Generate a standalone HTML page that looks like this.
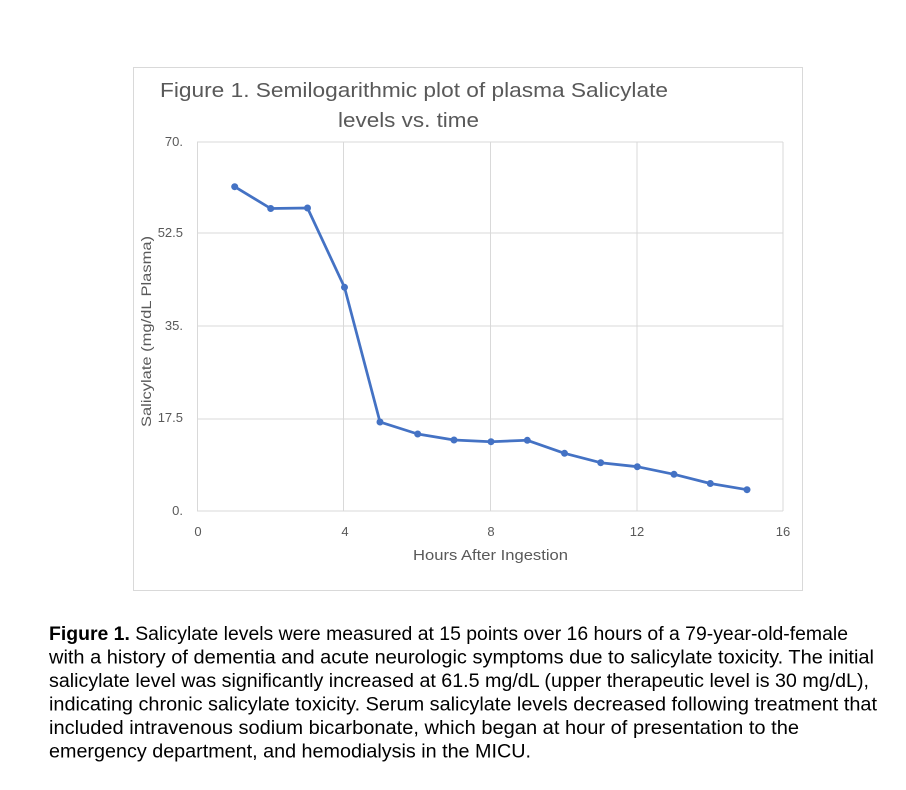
<!DOCTYPE html>
<html>
<head>
<meta charset="utf-8">
<style>
  html, body { margin:0; padding:0; background:#ffffff; }
  svg { display:block; }
</style>
</head>
<body>
<svg width="906" height="790" viewBox="0 0 906 790" xmlns="http://www.w3.org/2000/svg">
  <rect x="0" y="0" width="906" height="790" fill="#ffffff"/>
  <!-- chart outer box -->
  <rect x="133.5" y="67.5" width="669" height="523" fill="#ffffff" stroke="#d9d9d9" stroke-width="1"/>

  <!-- title -->
  <g font-family="Liberation Sans, sans-serif" fill="#595959" font-size="20.5">
    <text x="160" y="97" textLength="508" lengthAdjust="spacingAndGlyphs">Figure 1. Semilogarithmic plot of plasma Salicylate</text>
    <text x="338" y="127" textLength="141" lengthAdjust="spacingAndGlyphs">levels vs. time</text>
  </g>

  <!-- gridlines -->
  <g stroke="#d9d9d9" stroke-width="1" fill="none">
    <line x1="197" y1="142" x2="783" y2="142"/>
    <line x1="197" y1="233" x2="783" y2="233"/>
    <line x1="197" y1="326" x2="783" y2="326"/>
    <line x1="197" y1="419" x2="783" y2="419"/>
    <line x1="197" y1="511" x2="783" y2="511"/>
    <line x1="197.5" y1="142" x2="197.5" y2="511"/>
    <line x1="343.5" y1="142" x2="343.5" y2="511"/>
    <line x1="490.5" y1="142" x2="490.5" y2="511"/>
    <line x1="637" y1="142" x2="637" y2="511"/>
    <line x1="783" y1="142" x2="783" y2="511"/>
  </g>

  <!-- y tick labels -->
  <g font-family="Liberation Sans, sans-serif" fill="#595959" font-size="13" text-anchor="end">
    <text x="183" y="146">70.</text>
    <text x="183" y="237">52.5</text>
    <text x="183" y="330">35.</text>
    <text x="183" y="422">17.5</text>
    <text x="183" y="515">0.</text>
  </g>

  <!-- x tick labels -->
  <g font-family="Liberation Sans, sans-serif" fill="#595959" font-size="13" text-anchor="middle">
    <text x="198" y="536">0</text>
    <text x="345" y="536">4</text>
    <text x="491" y="536">8</text>
    <text x="637" y="536">12</text>
    <text x="783" y="536">16</text>
  </g>

  <!-- axis titles -->
  <text x="413" y="560" font-family="Liberation Sans, sans-serif" font-size="14.5" fill="#595959" textLength="155" lengthAdjust="spacingAndGlyphs">Hours After Ingestion</text>
  <text transform="translate(151,427) rotate(-90)" x="0" y="0" font-family="Liberation Sans, sans-serif" font-size="13.5" fill="#595959" textLength="191" lengthAdjust="spacingAndGlyphs">Salicylate (mg/dL Plasma)</text>

  <!-- data series -->
  <polyline fill="none" stroke="#4472C4" stroke-width="2.75" stroke-linejoin="round"
    points="234.7,186.7 270.7,208.5 307.5,208 344.5,287.3 380,422 417.7,434 454,440 491,441.7 527.3,440.3 564.5,453.3 600.7,462.7 637.3,466.7 674,474.3 710.3,483.5 747,489.7"/>
  <g fill="#4472C4">
    <circle cx="234.7" cy="186.7" r="3.5"/>
    <circle cx="270.7" cy="208.5" r="3.5"/>
    <circle cx="307.5" cy="208" r="3.5"/>
    <circle cx="344.5" cy="287.3" r="3.5"/>
    <circle cx="380" cy="422" r="3.5"/>
    <circle cx="417.7" cy="434" r="3.5"/>
    <circle cx="454" cy="440" r="3.5"/>
    <circle cx="491" cy="441.7" r="3.5"/>
    <circle cx="527.3" cy="440.3" r="3.5"/>
    <circle cx="564.5" cy="453.3" r="3.5"/>
    <circle cx="600.7" cy="462.7" r="3.5"/>
    <circle cx="637.3" cy="466.7" r="3.5"/>
    <circle cx="674" cy="474.3" r="3.5"/>
    <circle cx="710.3" cy="483.5" r="3.5"/>
    <circle cx="747" cy="489.7" r="3.5"/>
  </g>

  <!-- caption -->
  <g font-family="Liberation Sans, sans-serif" font-size="19" fill="#000000">
    <text x="49" y="640" textLength="799" lengthAdjust="spacingAndGlyphs"><tspan font-weight="bold">Figure 1.</tspan> Salicylate levels were measured at 15 points over 16 hours of a 79-year-old-female</text>
    <text x="49" y="663.5" textLength="825" lengthAdjust="spacingAndGlyphs">with a history of dementia and acute neurologic symptoms due to salicylate toxicity. The initial</text>
    <text x="49" y="687" textLength="820" lengthAdjust="spacingAndGlyphs">salicylate level was significantly increased at 61.5 mg/dL (upper therapeutic level is 30 mg/dL),</text>
    <text x="49" y="710.5" textLength="828" lengthAdjust="spacingAndGlyphs">indicating chronic salicylate toxicity. Serum salicylate levels decreased following treatment that</text>
    <text x="49" y="734" textLength="750" lengthAdjust="spacingAndGlyphs">included intravenous sodium bicarbonate, which began at hour of presentation to the</text>
    <text x="49" y="757.5" textLength="482" lengthAdjust="spacingAndGlyphs">emergency department, and hemodialysis in the MICU.</text>
  </g>
</svg>
</body>
</html>
